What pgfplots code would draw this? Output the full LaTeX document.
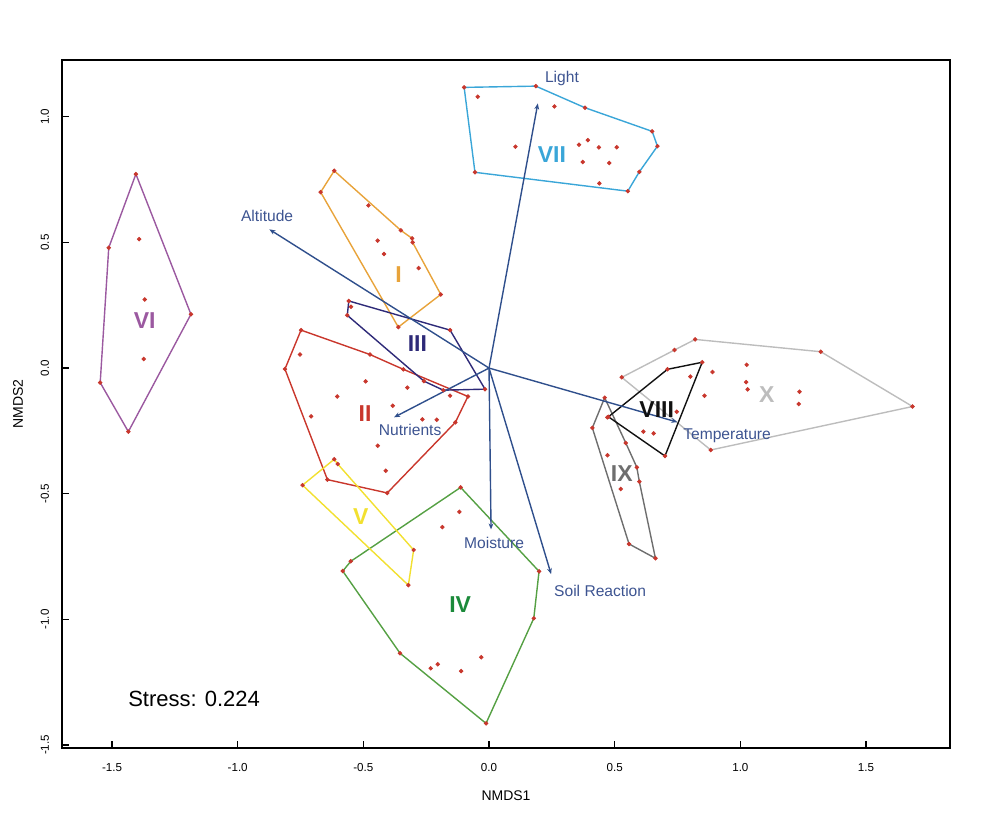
\documentclass[border=0pt]{standalone}
\usepackage{pgfplots}
\pgfplotsset{compat=1.18}
\usepackage{fontspec}
\setmainfont{Liberation Sans}
\usetikzlibrary{arrows.meta}

\definecolor{colI}{HTML}{E8A33A}
\definecolor{colII}{HTML}{C9372C}
\definecolor{colIII}{HTML}{2E2A78}
\definecolor{colIV}{HTML}{55A043}
\definecolor{labIV}{HTML}{1B8A3A}
\definecolor{colV}{HTML}{F2E030}
\definecolor{colVI}{HTML}{9B59A0}
\definecolor{colVII}{HTML}{3AA6D8}
\definecolor{colVIII}{HTML}{111111}
\definecolor{colIX}{HTML}{6E6E6E}
\definecolor{colX}{HTML}{BDBDBD}
\definecolor{dotred}{HTML}{C8372D}
\definecolor{arrcol}{HTML}{2F4F8C}
\definecolor{veclab}{HTML}{3D5491}

\begin{document}
\begin{tikzpicture}
\useasboundingbox (-31pt,-41.5pt) rectangle (462pt,374pt);
\begin{axis}[
    at={(0,0)}, anchor=south west,
    scale only axis,
    width=444pt, height=344pt,
    xmin=-1.699, xmax=1.834,
    ymin=-1.512, ymax=1.226,
    xtick={-1.5,-1,-0.5,0,0.5,1,1.5},
    ytick={-1.5,-1,-0.5,0,0.5,1},
    xtick pos=bottom, ytick pos=left,
    tick align=inside,
    major tick length=3.5pt,
    /pgf/number format/.cd, fixed, fixed zerofill, precision=1, assume math mode=true,
    /pgfplots/.cd,
    ticklabel style={font=\fontsize{5.8}{6.5}\selectfont},
    yticklabel style={rotate=90, anchor=south},
    xticklabel shift=4pt,
    yticklabel shift=3pt,
    xlabel={NMDS1}, ylabel={NMDS2},
    label style={font=\fontsize{7}{8}\selectfont},
    xlabel style={yshift=-3pt},
    ylabel style={yshift=2pt},
    axis line style={line width=0.6pt},
    every tick/.style={black, line width=0.6pt},
    clip=false,
  ]

% hulls
\addplot[colI, line width=0.7pt] coordinates {(-0.616,0.785) (-0.351,0.548) (-0.306,0.516) (-0.304,0.500) (-0.192,0.293) (-0.361,0.163) (-0.670,0.700) (-0.616,0.785)};
\addplot[colII, line width=0.7pt] coordinates {(-0.748,0.151) (-0.474,0.054) (-0.341,-0.005) (-0.084,-0.113) (-0.134,-0.216) (-0.405,-0.497) (-0.643,-0.444) (-0.812,-0.004) (-0.748,0.151)};
\addplot[colIII, line width=0.7pt] coordinates {(-0.558,0.267) (-0.155,0.151) (-0.016,-0.084) (-0.182,-0.088) (-0.259,-0.052) (-0.564,0.210) (-0.558,0.267)};
\addplot[colIV, line width=0.7pt] coordinates {(-0.113,-0.475) (0.199,-0.809) (0.178,-0.996) (-0.012,-1.414) (-0.354,-1.135) (-0.582,-0.808) (-0.550,-0.769) (-0.113,-0.475)};
\addplot[colV, line width=0.7pt] coordinates {(-0.616,-0.363) (-0.602,-0.382) (-0.300,-0.724) (-0.321,-0.864) (-0.742,-0.466) (-0.616,-0.363)};
\addplot[colVI, line width=0.7pt] coordinates {(-1.405,0.772) (-1.186,0.214) (-1.435,-0.253) (-1.547,-0.058) (-1.513,0.479) (-1.405,0.772)};
\addplot[colVII, line width=0.7pt] coordinates {(-0.099,1.117) (0.186,1.122) (0.382,1.036) (0.649,0.942) (0.670,0.883) (0.598,0.781) (0.552,0.704) (-0.056,0.779) (-0.099,1.117)};
\addplot[colX, line width=0.7pt] coordinates {(0.738,0.072) (0.820,0.114) (1.320,0.065) (1.685,-0.153) (0.882,-0.326) (0.528,-0.037) (0.738,0.072)};
\addplot[colIX, line width=0.7pt] coordinates {(0.460,-0.118) (0.544,-0.298) (0.588,-0.395) (0.598,-0.452) (0.662,-0.757) (0.557,-0.700) (0.411,-0.238) (0.460,-0.118)};
\addplot[colVIII, line width=0.7pt] coordinates {(0.848,0.023) (0.700,-0.350) (0.475,-0.194) (0.710,-0.005) (0.848,0.023)};

% sites
\addplot[only marks, mark=*, mark size=0.9pt, dotred] coordinates {
(-0.616,0.785) (-0.351,0.548) (-0.306,0.516) (-0.304,0.500) (-0.192,0.293) (-0.361,0.163) (-0.670,0.700)
(-0.480,0.647) (-0.443,0.507) (-0.418,0.454) (-0.280,0.398)
(-0.748,0.151) (-0.474,0.054) (-0.341,-0.005) (-0.084,-0.113) (-0.134,-0.216) (-0.405,-0.497) (-0.643,-0.444) (-0.812,-0.004)
(-0.752,0.054) (-0.491,-0.053) (-0.325,-0.078) (-0.604,-0.113) (-0.155,-0.110) (-0.383,-0.150) (-0.708,-0.192) (-0.265,-0.204) (-0.208,-0.206) (-0.443,-0.309) (-0.411,-0.409)
(-0.558,0.267) (-0.155,0.151) (-0.016,-0.084) (-0.182,-0.088) (-0.259,-0.052) (-0.564,0.210) (-0.549,0.244)
(-0.113,-0.475) (0.199,-0.809) (0.178,-0.996) (-0.012,-1.414) (-0.354,-1.135) (-0.582,-0.808) (-0.550,-0.769)
(-0.118,-0.572) (-0.186,-0.633) (-0.031,-1.151) (-0.232,-1.195) (-0.204,-1.179) (-0.111,-1.206)
(-0.616,-0.363) (-0.602,-0.382) (-0.300,-0.724) (-0.321,-0.864) (-0.742,-0.466)
(-1.405,0.772) (-1.186,0.214) (-1.435,-0.253) (-1.547,-0.058) (-1.513,0.479) (-1.392,0.513) (-1.370,0.273) (-1.374,0.036)
(-0.099,1.117) (0.186,1.122) (0.382,1.036) (0.649,0.942) (0.670,0.883) (0.598,0.781) (0.552,0.704) (-0.056,0.779)
(-0.045,1.080) (0.260,1.041) (0.105,0.881) (0.358,0.889) (0.393,0.907) (0.437,0.878) (0.508,0.879) (0.373,0.820) (0.478,0.816) (0.439,0.735)
(0.848,0.023) (0.700,-0.350) (0.475,-0.194) (0.710,-0.005) (0.614,-0.253) (0.655,-0.260)
(0.460,-0.118) (0.544,-0.298) (0.588,-0.395) (0.598,-0.452) (0.662,-0.757) (0.557,-0.700) (0.411,-0.238) (0.471,-0.196) (0.471,-0.347) (0.524,-0.481)
(0.738,0.072) (0.820,0.114) (1.320,0.065) (1.685,-0.153) (0.882,-0.326) (0.528,-0.037)
(0.889,-0.016) (0.801,-0.034) (1.025,0.013) (1.023,-0.056) (1.029,-0.085) (0.857,-0.110) (1.235,-0.094) (1.232,-0.143) (0.747,-0.174)
};

% environmental vectors
\addplot[arrcol, line width=0.7pt, -{Stealth[length=3pt,width=2.4pt]}] coordinates {(0,0) (-0.874,0.552)};
\addplot[arrcol, line width=0.7pt, -{Stealth[length=3pt,width=2.4pt]}] coordinates {(0,0) (0.194,1.053)};
\addplot[arrcol, line width=0.7pt, -{Stealth[length=3pt,width=2.4pt]}] coordinates {(0,0) (-0.378,-0.196)};
\addplot[arrcol, line width=0.7pt, -{Stealth[length=3pt,width=2.4pt]}] coordinates {(0,0) (0.008,-0.642)};
\addplot[arrcol, line width=0.7pt, -{Stealth[length=3pt,width=2.4pt]}] coordinates {(0,0) (0.247,-0.820)};
\addplot[arrcol, line width=0.7pt, -{Stealth[length=3pt,width=2.4pt]}] coordinates {(0,0) (0.749,-0.215)};

\begin{scope}[every node/.style={veclab, font=\fontsize{7.8}{9}\selectfont}]
\node at (axis cs:-0.883,0.605) {Altitude};
\node at (axis cs:0.290,1.154) {Light};
\node at (axis cs:-0.314,-0.247) {Nutrients};
\node at (axis cs:0.020,-0.696) {Moisture};
\node at (axis cs:0.442,-0.887) {Soil Reaction};
\node at (axis cs:0.947,-0.271) {Temperature};
\end{scope}

\begin{scope}[every node/.style={font=\fontsize{11.5}{13}\selectfont\bfseries}]
\node[colI] at (axis cs:-0.36,0.373) {I};
\node[colII] at (axis cs:-0.493,-0.18) {II};
\node[colIII] at (axis cs:-0.285,0.098) {III};
\node[labIV] at (axis cs:-0.115,-0.943) {IV};
\node[colV] at (axis cs:-0.51,-0.59) {V};
\node[colVI] at (axis cs:-1.37,0.19) {VI};
\node[colVII] at (axis cs:0.25,0.848) {VII};
\node[colVIII] at (axis cs:0.667,-0.167) {VIII};
\node[colIX] at (axis cs:0.528,-0.419) {IX};
\node[colX] at (axis cs:1.105,-0.107) {X};
\end{scope}

\node[anchor=west, inner sep=0pt, font=\fontsize{11}{13}\selectfont] at (axis cs:-1.437,-1.317) {Stress: 0.224};
\end{axis}
\end{tikzpicture}
\end{document}
